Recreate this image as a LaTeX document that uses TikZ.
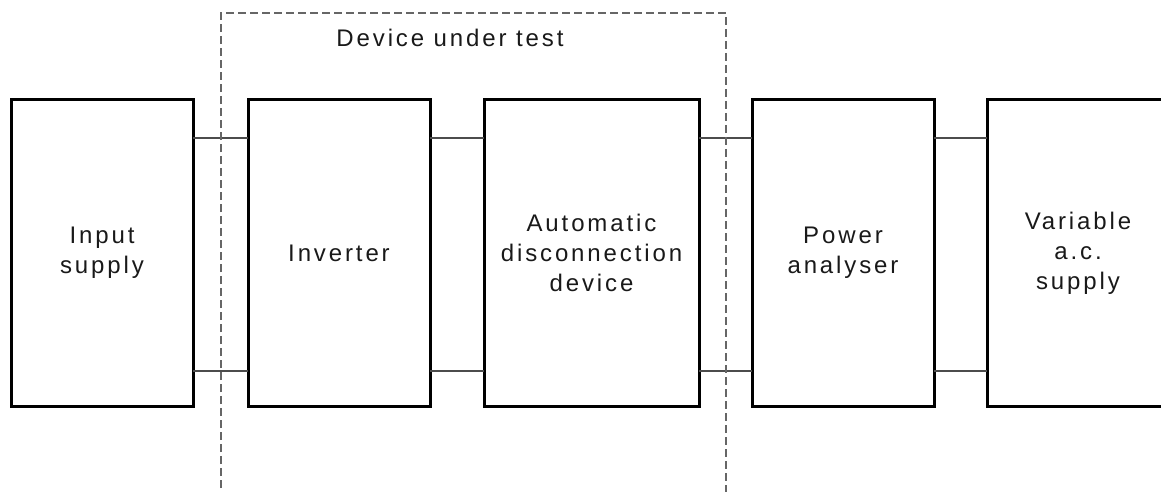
\documentclass[tikz,border=0pt]{standalone}
\usepackage{fontspec}
\newfontfamily\labelfont{Liberation Sans}[LetterSpace=12]
\usetikzlibrary{positioning}

\begin{document}
\begin{tikzpicture}[x=1pt,y=-1pt,
  block/.style={rectangle,draw,line width=3pt,minimum width=182pt,minimum height=306pt,
    outer sep=0pt,inner sep=0pt,align=center,text=black!90},
  wire/.style={draw=black!70,line width=1.3pt},
  dut/.style={draw=black!60,line width=1.5pt,dash pattern=on 8pt off 4pt},
  node distance=54pt,
  font=\labelfont\fontsize{24}{30}\selectfont]
\useasboundingbox (0,0) rectangle (1161,492);

% the chain of test equipment
\node [block] (input) at (102,253) {Input\\supply};
\node [block,right=55pt of input] (inv) {Inverter};
\node [block,minimum width=215pt,right=of inv] (adc) {Automatic\\disconnection\\device};
\node [block,right=53pt of adc] (pa) {Power\\analyser};
\node [block,right=53pt of pa] (ac) {Variable\\a.c.\\supply};

% two wires between each pair
\coordinate (hi) at (0,138);
\coordinate (lo) at (0,371);
\foreach \a/\b in {input/inv,inv/adc,adc/pa,pa/ac}{
  \draw [wire] (\a.east |- hi) -- (\b.west |- hi);
  \draw [wire] (\a.east |- lo) -- (\b.west |- lo);
}

% device under test
\coordinate (dutsw) at (221,500);
\coordinate (dutnw) at (221,13);
\coordinate (dutne) at (726,13);
\coordinate (dutse) at (726,500);
\draw [dut] (dutsw) -- (dutnw) -- (dutne) -- (dutse);
\node [anchor=base,text=black!90] (dutlabel) at (450,47) {Device under test};
\end{tikzpicture}
\end{document}
